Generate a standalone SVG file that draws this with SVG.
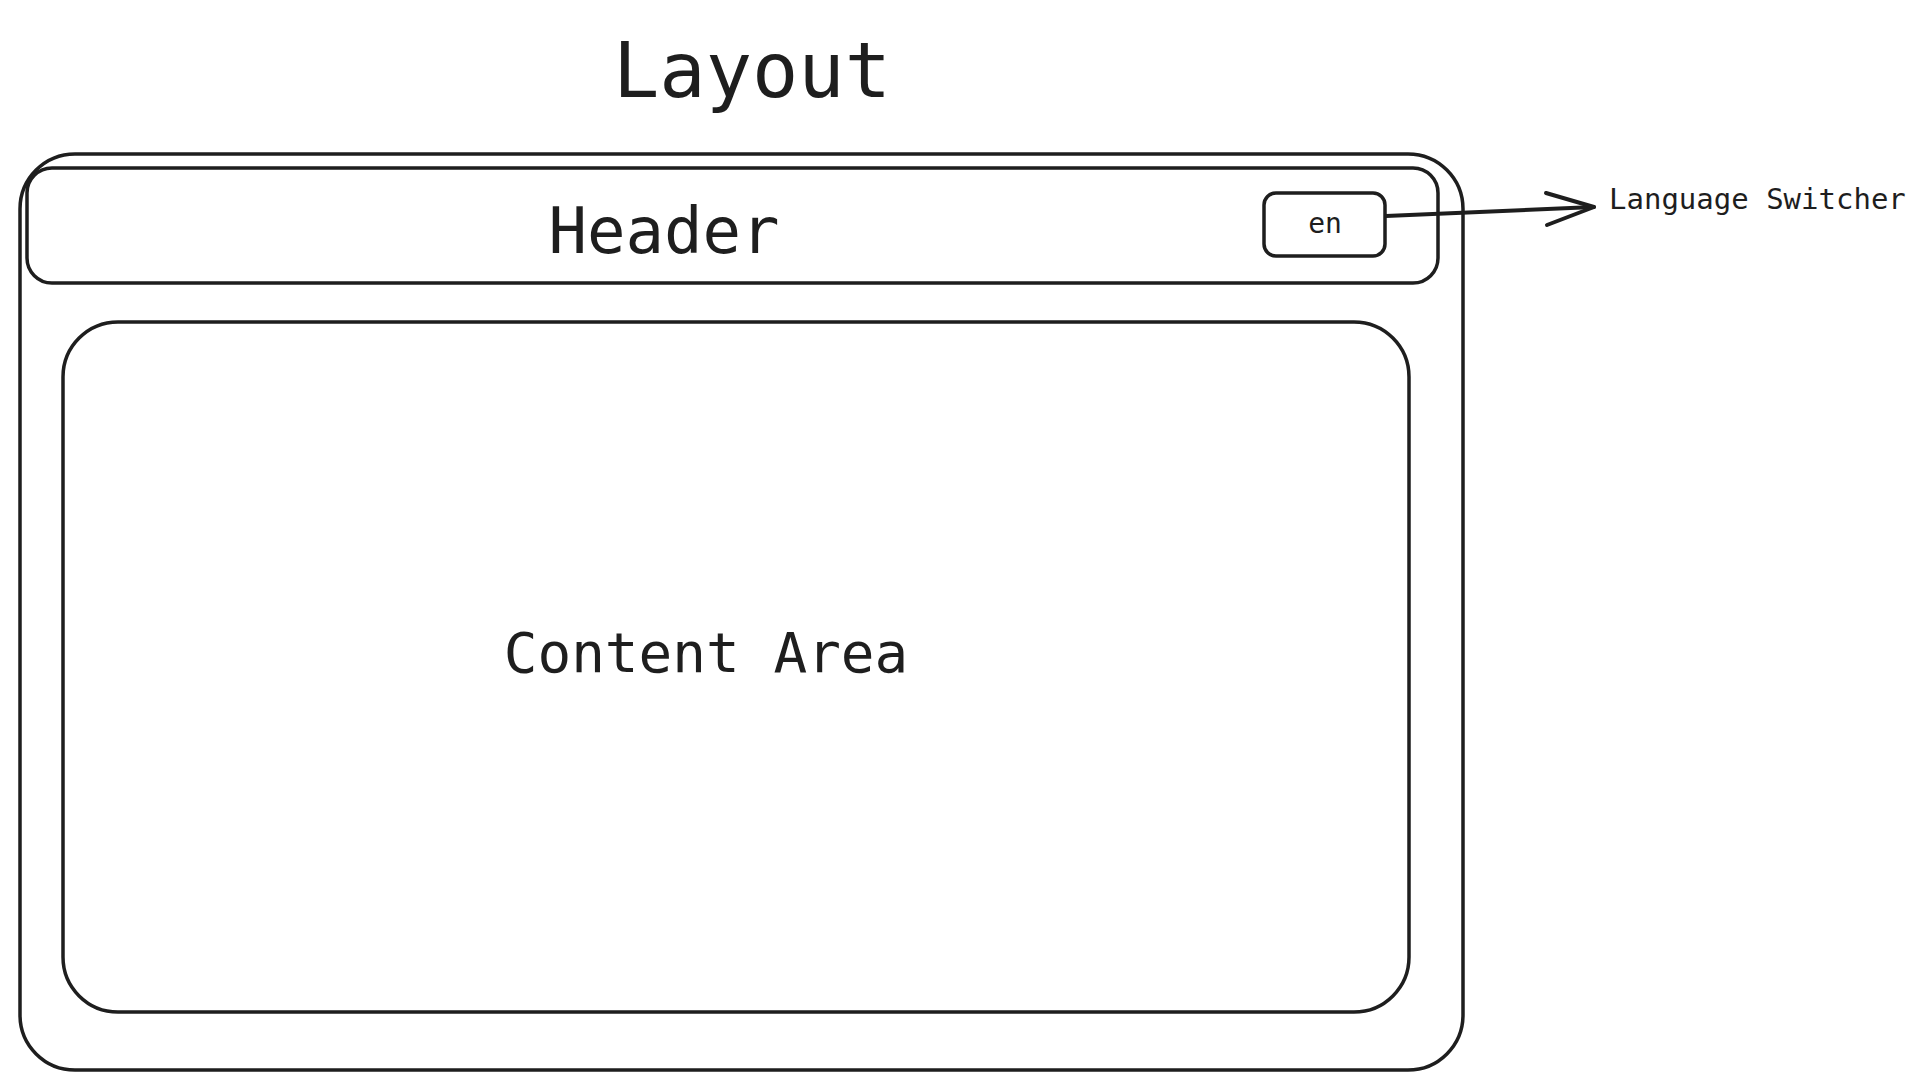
<svg xmlns="http://www.w3.org/2000/svg" width="1929" height="1090" viewBox="0 0 1929 1090">
  <style>
    .box { fill: none; stroke: #1e1e1e; stroke-width: 3.5; stroke-linecap: round; stroke-linejoin: round; }
    .txt { font-family: "DejaVu Sans Mono", "Liberation Mono", monospace; fill: #1e1e1e; text-anchor: middle; }
    .conn { fill: none; stroke: #1e1e1e; stroke-width: 4; stroke-linecap: round; stroke-linejoin: round; }
  </style>
  <rect width="1929" height="1090" fill="#ffffff"/>
  <g id="title">
    <text class="txt" x="752" y="97" font-size="77">Layout</text>
  </g>
  <g id="layout">
    <rect class="box" x="20" y="154" width="1443" height="916" rx="55" ry="55"/>
  </g>
  <g id="header">
    <rect class="box" x="27" y="168" width="1411" height="115" rx="25" ry="25" stroke-width="4"/>
    <text class="txt" x="664" y="253" font-size="64">Header</text>
  </g>
  <g id="language-button">
    <rect class="box" x="1264" y="193" width="121" height="63" rx="12" ry="12" stroke-width="4.5"/>
    <text class="txt" x="1325" y="233" font-size="28">en</text>
  </g>
  <g id="content-area">
    <rect class="box" x="63" y="322" width="1346" height="690" rx="55" ry="55"/>
    <text class="txt" x="706" y="672" font-size="56">Content Area</text>
  </g>
  <g id="language-switcher-label">
    <text class="txt" x="1609" y="209" font-size="29" style="text-anchor:start">Language Switcher</text>
  </g>
  <g id="connectors">
    <path class="conn" d="M1386 216 L1594 207"/>
    <path class="conn" d="M1546 193 L1594 207 L1547 225"/>
  </g>
</svg>
